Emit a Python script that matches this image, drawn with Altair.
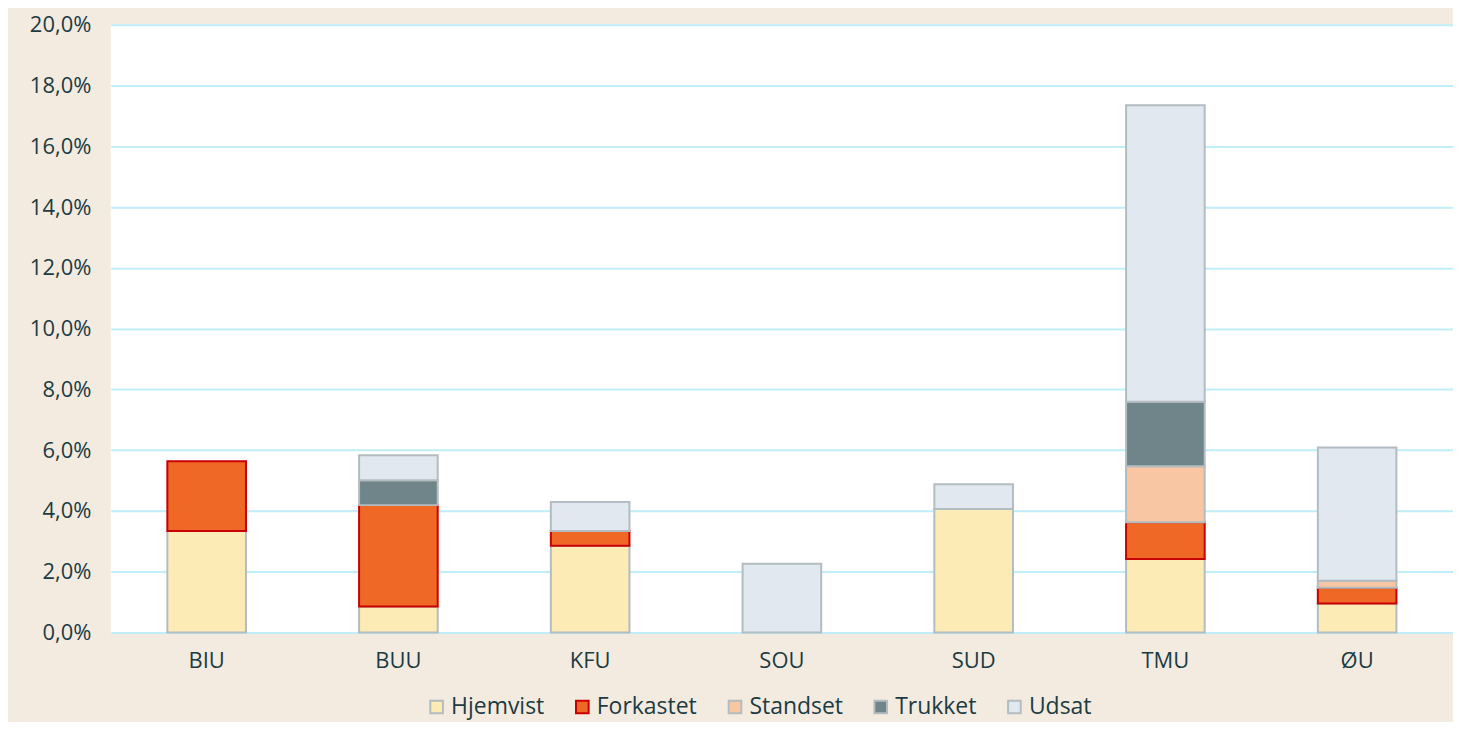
import altair as alt
import pandas as pd

categories = ["BIU", "BUU", "KFU", "SOU", "SUD", "TMU", "ØU"]
statuses = ["Hjemvist", "Forkastet", "Standset", "Trukket", "Udsat"]
hjemvist = [3.34, 0.85, 2.85, 0.0, 4.06, 2.42, 0.95]
forkastet = [2.29, 3.34, 0.49, 0.0, 0.0, 1.21, 0.52]
standset = [0.0, 0.0, 0.0, 0.0, 0.0, 1.84, 0.23]
trukket = [0.0, 0.82, 0.0, 0.0, 0.0, 2.12, 0.0]
udsat = [0.0, 0.82, 0.95, 2.26, 0.82, 9.76, 4.39]

fills = ["#fdebb5", "#f06826", "#f8c6a3", "#6f858a", "#e1e8f0"]
strokes = ["#b3bcc0", "#c80000", "#b3bcc0", "#b3bcc0", "#b3bcc0"]

series = [hjemvist, forkastet, standset, trukket, udsat]
rows = []
for si, (name, vals) in enumerate(zip(statuses, series)):
    for c, v in zip(categories, vals):
        if v > 0:
            rows.append({"kategori": c, "status": name, "værdi": v, "orden": si})
df = pd.DataFrame(rows)

text_color = "#1c3b43"
font = "Open Sans"

legend = alt.Legend(orient="none", legendX=315, legendY=672, direction="horizontal")

chart = alt.Chart(df).mark_bar(strokeWidth=2).encode(
    x=alt.X("kategori:N", sort=categories, title=None,
            scale=alt.Scale(paddingInner=0.59),
            axis=alt.Axis(labelAngle=0, domain=False, ticks=False, labelPadding=18,
                          labelFontSize=22, labelColor=text_color, labelFont=font)),
    y=alt.Y("værdi:Q", stack="zero", title=None,
            scale=alt.Scale(domain=[0, 20], nice=False),
            axis=alt.Axis(values=[0, 2, 4, 6, 8, 10, 12, 14, 16, 18, 20],
                          labelExpr="replace(format(datum.value, '.1f'), '.', ',') + '%'",
                          domain=False, ticks=False, labelPadding=20, minExtent=93,
                          labelFontSize=22, labelColor=text_color, labelFont=font,
                          gridColor="#bfeef9", gridWidth=2)),
    fill=alt.Fill("status:N", title=None,
                  scale=alt.Scale(domain=statuses, range=fills), legend=legend),
    stroke=alt.Stroke("status:N", title=None,
                      scale=alt.Scale(domain=statuses, range=strokes), legend=legend),
    order=alt.Order("orden:Q", sort="ascending"),
).properties(
    width=1345, height=609,
    background="#f3ebe0",
    padding={"top": 5, "left": 10, "right": 0, "bottom": 2},
).configure_view(
    fill="white", stroke=None
).configure_legend(
    symbolType="square", symbolSize=160, symbolStrokeWidth=2,
    labelFontSize=23, labelColor=text_color, labelFont=font,
    labelOffset=3, columnPadding=26, symbolOpacity=1,
)

chart.save("out.html", embed_options={"renderer": "svg", "actions": False})
